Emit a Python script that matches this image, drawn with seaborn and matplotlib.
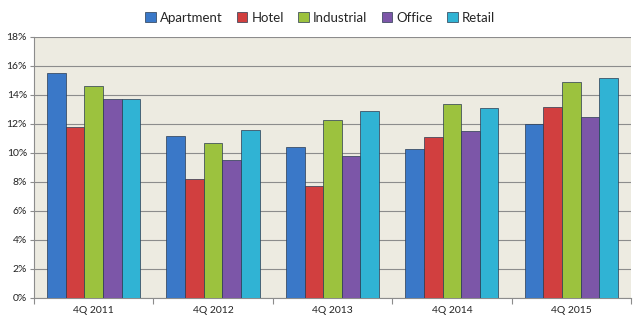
import matplotlib
matplotlib.use("Agg")
import matplotlib.pyplot as plt
import seaborn as sns
import pandas as pd
from matplotlib.ticker import FuncFormatter, FixedLocator

quarters = ["4Q 2011", "4Q 2012", "4Q 2013", "4Q 2014", "4Q 2015"]
sectors = ["Apartment", "Hotel", "Industrial", "Office", "Retail"]
apartment = [15.5, 11.2, 10.4, 10.3, 12.0]
hotel = [11.8, 8.2, 7.7, 11.1, 13.2]
industrial = [14.6, 10.7, 12.3, 13.4, 14.9]
office = [13.7, 9.5, 9.8, 11.5, 12.5]
retail = [13.7, 11.6, 12.9, 13.1, 15.2]
colors = ["#3a78c8", "#d13f3f", "#9cc23e", "#7c56a8", "#30b3d4"]

series = [apartment, hotel, industrial, office, retail]
rows = []
for s, vals in zip(sectors, series):
    for q, v in zip(quarters, vals):
        rows.append({"Quarter": q, "Sector": s, "Value": v})
df = pd.DataFrame(rows)

sns.set_theme(style="white")
plt.rcParams["font.family"] = ["Lato", "DejaVu Sans"]

fig = plt.figure(figsize=(6.4, 3.27), dpi=100)
ax = fig.add_axes([0.053, 0.089, 0.933, 0.798])
ax.set_facecolor("#edebe1")

sns.barplot(data=df, x="Quarter", y="Value", hue="Sector", order=quarters,
            hue_order=sectors, palette=colors, saturation=1, width=0.78, ax=ax,
            edgecolor="#2a3a50", linewidth=0.5, legend=True, zorder=3)

ax.set_ylim(0, 18)
ax.set_xlim(-0.5, 4.5)
ax.set_yticks(range(0, 19, 2))
ax.yaxis.set_major_formatter(FuncFormatter(lambda v, p: f"{int(v)}%"))
ax.grid(axis="y", color="#8c8c8c", linewidth=0.8, zorder=0)
ax.set_axisbelow(True)
ax.set_xlabel("")
ax.set_ylabel("")
for sp in ["top", "right"]:
    ax.spines[sp].set_visible(False)
for sp in ["left", "bottom"]:
    ax.spines[sp].set_color("#8c8c8c")
    ax.spines[sp].set_linewidth(0.8)

ax.tick_params(axis="y", labelsize=7.5, colors="#222222", length=3, width=0.8,
               color="#8c8c8c", left=True, pad=2)
ax.tick_params(axis="x", labelsize=7.5, colors="#222222", length=0, pad=6)
ax.xaxis.set_minor_locator(FixedLocator([-0.5, 0.5, 1.5, 2.5, 3.5, 4.5]))
ax.tick_params(axis="x", which="minor", length=4, width=0.8, color="#8c8c8c",
               bottom=True)

handles, labels = ax.get_legend_handles_labels()
ax.legend(handles, labels, loc="upper center", bbox_to_anchor=(0.5, 1.0),
          bbox_transform=fig.transFigure, ncol=5, frameon=False, fontsize=9.5,
          handlelength=0.8, handleheight=0.8, handletextpad=0.3,
          columnspacing=1.1)

fig.savefig("out.png", dpi=100, facecolor="white")
